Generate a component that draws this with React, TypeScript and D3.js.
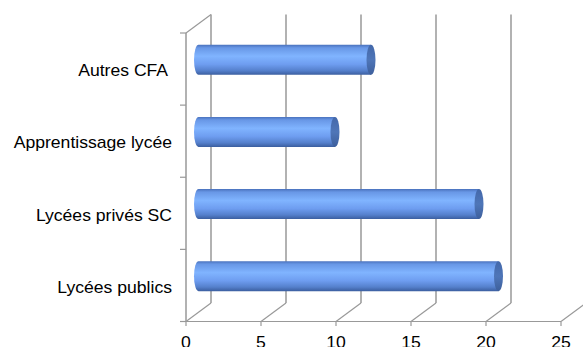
import React from "react";
import * as d3 from "d3";

const categories = ["Autres CFA ", "Apprentissage lycée", "Lycées privés SC", "Lycées publics"];
const values = [11.5, 9.1, 18.7, 20.0];
const ticks = [0, 5, 10, 15, 20, 25];

const W = 583, H = 347;
const DX = 25, DY = -18.5;

export default function App() {
  const x = d3.scaleLinear().domain([0, 25]).range([186, 561]);
  const y = d3.scaleBand<string>().domain(categories).range([33, 321.5]);
  const grid = "#999999";
  const barH = 30;
  const capRx = 4.5;
  const font = "Liberation Sans, Arial, sans-serif";
  return (
    <svg width={W} height={H} style={{ position: "absolute", left: 0, top: 0 }}>
      <defs>
        <linearGradient id="cyl" x1="0" y1="0" x2="0" y2="1">
          <stop offset="0" stopColor="#4a72bd" />
          <stop offset="0.1" stopColor="#6897e6" />
          <stop offset="0.38" stopColor="#80b4ff" />
          <stop offset="0.65" stopColor="#6e9df0" />
          <stop offset="0.86" stopColor="#5580cc" />
          <stop offset="1" stopColor="#3b5e9f" />
        </linearGradient>
        <linearGradient id="cap" x1="0" y1="0" x2="0" y2="1">
          <stop offset="0" stopColor="#4368aa" />
          <stop offset="0.5" stopColor="#4f76b8" />
          <stop offset="1" stopColor="#3d5f9c" />
        </linearGradient>
      </defs>
      {ticks.map((t) => (
        <line key={"g" + t} x1={x(t) + DX} x2={x(t) + DX} y1={33 + DY} y2={321.5 + DY} stroke={grid} strokeWidth={1.5} />
      ))}
      {ticks.map((t) => (
        <line key={"d" + t} x1={x(t)} y1={321.5} x2={x(t) + DX} y2={321.5 + DY} stroke={grid} strokeWidth={1.2} />
      ))}
      <line x1={186} x2={186} y1={33} y2={321.5} stroke={grid} strokeWidth={1.5} />
      <line x1={186} y1={33} x2={186 + DX} y2={33 + DY} stroke={grid} strokeWidth={1.2} />
      {[0, 1, 2, 3, 4].map((i) => {
        const yy = 33 + i * y.step();
        return <line key={"lt" + i} x1={180} x2={186} y1={yy} y2={yy} stroke={grid} strokeWidth={1.2} />;
      })}
      <line x1={186} x2={561} y1={321.5} y2={321.5} stroke={grid} strokeWidth={1.2} />
      {ticks.map((t) => (
        <line key={"bt" + t} x1={x(t)} x2={x(t)} y1={321.5} y2={326} stroke={grid} strokeWidth={1.2} />
      ))}
      {categories.map((c, i) => {
        const cy = (y(c) as number) + y.bandwidth() / 2 + DY / 2;
        const x0 = x(0) + DX / 2;
        const x1 = x(values[i]) + DX / 2;
        const top = cy - barH / 2;
        const bot = cy + barH / 2;
        const body = `M${x0},${top} L${x1},${top} L${x1},${bot} L${x0},${bot} A${capRx},${barH / 2} 0 0 1 ${x0},${top} Z`;
        return (
          <g key={"b" + i}>
            <path d={body} fill="url(#cyl)" />
            <ellipse cx={x1} cy={cy} rx={capRx} ry={barH / 2} fill="url(#cap)" />
          </g>
        );
      })}
      {categories.map((c) => (
        <text
          key={"l" + c}
          transform={`translate(172,${(y(c) as number) + y.bandwidth() / 2 + 2}) scale(1.1,1)`}
          textAnchor="end"
          dominantBaseline="central"
          fontFamily={font}
          fontSize={16}
          fill="#000"
          style={{ whiteSpace: "pre" }}
          xmlSpace="preserve"
        >
          {c}
        </text>
      ))}
      {ticks.map((t) => (
        <text
          key={"xl" + t}
          transform={`translate(${x(t)},347.5) scale(1.1,1)`}
          textAnchor="middle"
          fontFamily={font}
          fontSize={16}
          fill="#000"
        >
          {t}
        </text>
      ))}
    </svg>
  );
}
